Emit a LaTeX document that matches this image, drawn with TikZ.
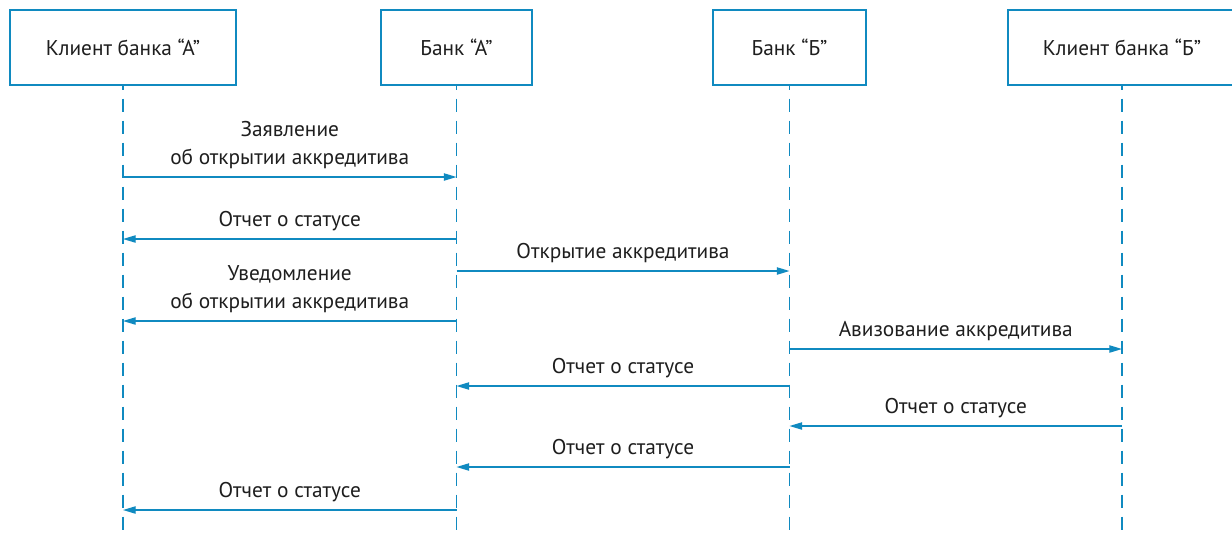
\documentclass[tikz,border=0pt]{standalone}
\usepackage{fontspec}
\setmainfont{PT Sans}
\usetikzlibrary{arrows.meta}
\definecolor{lineblue}{RGB}{16,138,192}
\definecolor{textgray}{RGB}{30,30,30}
\tikzstyle{party}=[
        draw=lineblue, line width=1.1pt, minimum height=56.25pt,
        text=textgray, font=\fontsize{16}{19}\selectfont
]
\tikzstyle{lifeline}=[
        draw=lineblue, line width=0.9pt,
        dash pattern=on 9.75pt off 6.75pt, dash phase=6.75pt
]
\tikzstyle{msg}=[
        draw=lineblue, line width=0.9pt,
        -{Triangle[length=9.5pt,width=5.5pt]}
]
\tikzstyle{lbl}=[
        anchor=south, inner sep=0pt, yshift=5.5pt, align=center,
        text=textgray, font=\fontsize{16}{21}\selectfont
]

\begin{document}
\begin{tikzpicture}[x=0.75pt, y=-0.75pt]
                        \useasboundingbox (0,0) rectangle (1232,537);

                        \node[party, minimum width=169.5pt] (ca) at (123,47.5) {Клиент банка “А”};
                        \node[party, minimum width=113.25pt] (ba) at (456.5,47.5) {Банк “А”};
                        \node[party, minimum width=114.75pt] (bb) at (789.5,47.5) {Банк “Б”};
                        \node[party, minimum width=171pt] (cb) at (1122,47.5) {Клиент банка “Б”};

                        \coordinate (bottom) at (0,540);
                        \foreach \n in {ca,ba,bb,cb} {
                            \draw[lifeline] (\n.south) -- (\n.south |- bottom);
                        }

                        \foreach \i/\y in {1/177,2/239,3/271,4/321,5/349,6/386,7/426,8/467,9/510} {
                            \coordinate (m\i) at (0,\y);
                        }

                        \draw[msg] (ca |- m1) -- node[lbl] {Заявление\\об открытии аккредитива} (ba |- m1);
                        \draw[msg] (ba |- m2) -- node[lbl] {Отчет о статусе} (ca |- m2);
                        \draw[msg] (ba |- m3) -- node[lbl] {Открытие аккредитива} (bb |- m3);
                        \draw[msg] (ba |- m4) -- node[lbl] {Уведомление\\об открытии аккредитива} (ca |- m4);
                        \draw[msg] (bb |- m5) -- node[lbl] {Авизование аккредитива} (cb |- m5);
                        \draw[msg] (bb |- m6) -- node[lbl] {Отчет о статусе} (ba |- m6);
                        \draw[msg] (cb |- m7) -- node[lbl] {Отчет о статусе} (bb |- m7);
                        \draw[msg] (bb |- m8) -- node[lbl] {Отчет о статусе} (ba |- m8);
                        \draw[msg] (ba |- m9) -- node[lbl] {Отчет о статусе} (ca |- m9);

                    \end{tikzpicture}
\end{document}
